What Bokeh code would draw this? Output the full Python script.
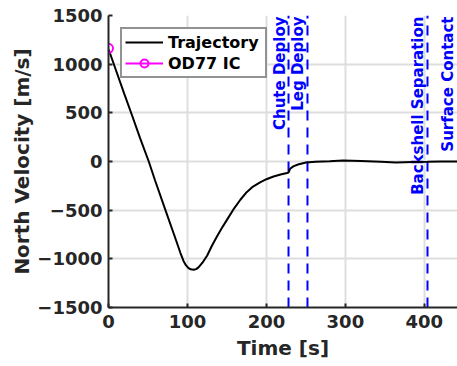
import numpy as np
from bokeh.plotting import figure
from bokeh.models import Range1d, FixedTicker, Legend, LegendItem, ColumnDataSource
from bokeh.core.properties import value
from bokeh.embed import file_html
from bokeh.resources import INLINE

# ---- data ----
time_s = [0, 2, 10, 20, 30, 40, 51, 59, 72, 83, 91, 95, 98, 101, 104, 108, 111, 114, 119, 125,
          131, 137, 143, 150, 158, 167, 175, 183, 192, 200, 209, 218, 226, 228, 230, 234, 240,
          250, 262, 280, 297, 320, 345, 364, 385, 404, 420, 442]
north_vel = [1150, 1110, 925, 695, 470, 240, 0, -195, -497, -750, -938, -1022, -1065, -1093,
             -1108, -1113, -1106, -1088, -1040, -966, -865, -775, -690, -600, -495, -393, -315,
             -258, -214, -182, -154, -134, -118, -113, -75, -50, -31, -10, -3, 2, 10, 5, -2,
             -10, -4, -3, 0, 0]
ic_time = [0]
ic_vel = [1163]
event_names = ["Chute Deploy", "Leg Deploy", "Backshell Separation", "Surface Contact"]
event_times = [228, 252, 404, 445]
x_ticks = [0, 100, 200, 300, 400]
y_ticks = [-1500, -1000, -500, 0, 500, 1000, 1500]

FONT = "DejaVu Sans"
DARK = "#262626"

p = figure(width=457, height=366, output_backend="svg", toolbar_location=None,
           x_range=Range1d(0, 442), y_range=Range1d(-1500, 1500),
           min_border_left=108, min_border_right=0, min_border_top=15, min_border_bottom=59)
p.outline_line_color = None
p.background_fill_color = "white"
p.border_fill_color = "white"

for ax, ticks in ((p.xaxis, x_ticks), (p.yaxis, y_ticks)):
    ax.ticker = FixedTicker(ticks=ticks)
    ax.axis_line_color = DARK
    ax.axis_line_width = 2
    ax.major_tick_line_color = DARK
    ax.major_tick_line_width = 2
    ax.major_tick_in = 4
    ax.major_tick_out = 0
    ax.minor_tick_line_color = None
    ax.major_label_text_font = FONT
    ax.major_label_text_font_style = "bold"
    ax.major_label_text_font_size = "18px"
    ax.major_label_text_color = DARK
    ax.axis_label_text_font = FONT
    ax.axis_label_text_font_style = "bold"
    ax.axis_label_text_font_size = "20px"
    ax.axis_label_text_color = DARK

p.xaxis.axis_label = "Time [s]"
p.yaxis.axis_label = "North Velocity [m/s]"
p.xaxis.major_label_standoff = 7
p.yaxis.major_label_standoff = 6
p.xaxis.axis_label_standoff = 5
p.yaxis.axis_label_standoff = 0

p.grid.grid_line_color = "#dedede"
p.grid.grid_line_width = 2
p.xgrid.ticker = FixedTicker(ticks=x_ticks)
p.ygrid.ticker = FixedTicker(ticks=y_ticks)

# event lines
for name, t in zip(event_names, event_times):
    p.line(x=[t, t], y=[-1500, 1500], line_color="blue", line_width=2, line_dash="10 7")

ev_src = ColumnDataSource(dict(x=event_times, y=[1500] * len(event_times), txt=event_names,
                               dx=[-9, -9, -9, -12]))
p.text(x="x", y="y", text="txt", source=ev_src, angle=np.pi / 2, text_align="right",
       text_baseline="middle", x_offset="dx", y_offset=1, text_color="blue",
       text_font=value(FONT), text_font_style="bold", text_font_size="15px")

traj = p.line(time_s, north_vel, line_color="black", line_width=2)
ic_line = p.line(ic_time, ic_vel, line_color="magenta", line_width=2)
ic_pt = p.scatter(ic_time, ic_vel, marker="circle", size=9, fill_color=None,
                  line_color="magenta", line_width=2)

legend = Legend(items=[LegendItem(label="Trajectory", renderers=[traj]),
                       LegendItem(label="OD77 IC", renderers=[ic_line, ic_pt])],
                location="top_left")
legend.margin = 12
legend.padding = 3
legend.spacing = 1
legend.glyph_width = 38
legend.glyph_height = 20
legend.label_height = 20
legend.label_width = 94
legend.label_standoff = 5
legend.label_text_font = FONT
legend.label_text_font_style = "bold"
legend.label_text_font_size = "16px"
legend.label_text_color = "black"
legend.border_line_color = DARK
legend.border_line_width = 2
legend.background_fill_color = "white"
legend.background_fill_alpha = 1
p.add_layout(legend, "center")

open("out.html", "w").write(file_html(p, INLINE))
